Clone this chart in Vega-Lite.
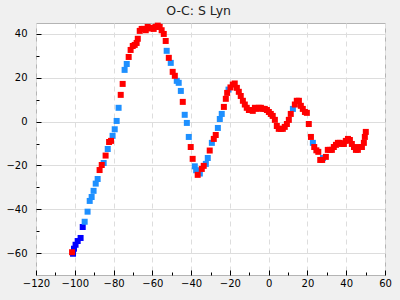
{
  "$schema": "https://vega.github.io/schema/vega-lite/v6.json",
  "width": 349,
  "height": 252,
  "autosize": {"type": "none"},
  "padding": {"left": 36, "top": 23, "right": 15, "bottom": 25},
  "background": "#f0f0f0",
  "title": {"text": "O-C: S Lyn", "fontSize": 12.5, "font": "DejaVu Sans", "fontWeight": "normal", "color": "#222222", "anchor": "middle", "frame": "bounds", "baseline": "alphabetic", "offset": -5},
  "config": {
    "view": {"fill": "white", "stroke": "#b4b4b4"},
    "axis": {"labelFont": "DejaVu Sans", "labelFontSize": 10, "labelColor": "#000000", "domain": false, "tickColor": "#000000", "labelFlush": false, "labelOverlap": false, "title": null}
  },
  "data": {"values": [
    {"x": -100.9, "y": -60.3, "c": "d"}, {"x": -100.4, "y": -58.0, "c": "d"}, {"x": -99.6, "y": -56.2, "c": "d"}, {"x": -98.5, "y": -54.5, "c": "d"}, {"x": -97.0, "y": -53.1, "c": "d"}, {"x": -95.9, "y": -48.1, "c": "d"},
    {"x": -94.9, "y": -45.7, "c": "b"}, {"x": -93.4, "y": -41.1, "c": "b"}, {"x": -92.3, "y": -36.2, "c": "b"}, {"x": -91.3, "y": -34.4, "c": "b"}, {"x": -90.3, "y": -31.6, "c": "b"}, {"x": -89.2, "y": -28.3, "c": "b"}, {"x": -88.2, "y": -26.2, "c": "b"}, {"x": -85.1, "y": -18.9, "c": "b"}, {"x": -83.0, "y": -12.5, "c": "b"}, {"x": -80.5, "y": -6.5, "c": "b"}, {"x": -79.4, "y": -3.5, "c": "b"}, {"x": -78.4, "y": 0.3, "c": "b"}, {"x": -77.4, "y": 6.3, "c": "b"}, {"x": -74.3, "y": 23.6, "c": "b"}, {"x": -73.2, "y": 26.3, "c": "b"}, {"x": -52.6, "y": 32.3, "c": "b"}, {"x": -50.5, "y": 26.8, "c": "b"}, {"x": -47.4, "y": 18.6, "c": "b"}, {"x": -46.4, "y": 17.7, "c": "b"}, {"x": -45.3, "y": 14.0, "c": "b"}, {"x": -43.3, "y": 3.1, "c": "b"}, {"x": -42.2, "y": -0.6, "c": "b"}, {"x": -41.2, "y": -7.0, "c": "b"}, {"x": -38.1, "y": -20.4, "c": "b"}, {"x": -37.4, "y": -22.2, "c": "b"}, {"x": -35.5, "y": -23.7, "c": "b"}, {"x": -32.4, "y": -19.3, "c": "b"}, {"x": -31.4, "y": -16.6, "c": "b"}, {"x": -29.3, "y": -9.7, "c": "b"}, {"x": -26.2, "y": -2.9, "c": "b"}, {"x": -25.2, "y": 1.2, "c": "b"}, {"x": -24.2, "y": 3.5, "c": "b"}, {"x": -20.7, "y": 14.6, "c": "b"}, {"x": 12.5, "y": 5.8, "c": "b"}, {"x": 22.8, "y": -9.7, "c": "b"}, {"x": 28.0, "y": -16.6, "c": "b"},
    {"x": -101.4, "y": -59.6, "c": "r"}, {"x": -87.2, "y": -22.1, "c": "r"}, {"x": -86.1, "y": -19.8, "c": "r"}, {"x": -84.1, "y": -15.5, "c": "r"}, {"x": -82.3, "y": -9.3, "c": "r"}, {"x": -81.3, "y": -8.8, "c": "r"}, {"x": -76.3, "y": 12.2, "c": "r"}, {"x": -75.3, "y": 17.2, "c": "r"}, {"x": -72.2, "y": 29.5, "c": "r"}, {"x": -71.2, "y": 32.7, "c": "r"}, {"x": -70.1, "y": 34.5, "c": "r"}, {"x": -69.1, "y": 35.0, "c": "r"}, {"x": -68.1, "y": 35.9, "c": "r"}, {"x": -67.5, "y": 37.8, "c": "r"}, {"x": -66.5, "y": 41.4, "c": "r"}, {"x": -65.5, "y": 42.3, "c": "r"}, {"x": -64.4, "y": 42.3, "c": "r"}, {"x": -63.4, "y": 41.7, "c": "r"}, {"x": -62.4, "y": 43.2, "c": "r"}, {"x": -61.4, "y": 42.5, "c": "r"}, {"x": -60.3, "y": 42.8, "c": "r"}, {"x": -59.3, "y": 42.3, "c": "r"}, {"x": -58.3, "y": 43.2, "c": "r"}, {"x": -57.2, "y": 43.8, "c": "r"}, {"x": -56.2, "y": 43.2, "c": "r"}, {"x": -55.2, "y": 41.7, "c": "r"}, {"x": -54.1, "y": 40.0, "c": "r"}, {"x": -53.1, "y": 36.8, "c": "r"}, {"x": -51.5, "y": 29.1, "c": "r"}, {"x": -49.5, "y": 22.7, "c": "r"}, {"x": -48.4, "y": 20.9, "c": "r"}, {"x": -44.3, "y": 9.0, "c": "r"}, {"x": -40.2, "y": -11.6, "c": "r"}, {"x": -39.2, "y": -17.0, "c": "r"}, {"x": -36.6, "y": -24.3, "c": "r"}, {"x": -34.5, "y": -21.6, "c": "r"}, {"x": -33.5, "y": -20.2, "c": "r"}, {"x": -30.4, "y": -13.2, "c": "r"}, {"x": -28.3, "y": -7.9, "c": "r"}, {"x": -27.3, "y": -6.1, "c": "r"}, {"x": -23.1, "y": 6.7, "c": "r"}, {"x": -22.1, "y": 10.4, "c": "r"}, {"x": -21.4, "y": 13.1, "c": "r"}, {"x": -19.7, "y": 15.6, "c": "r"}, {"x": -18.5, "y": 16.9, "c": "r"}, {"x": -17.5, "y": 17.4, "c": "r"}, {"x": -16.4, "y": 15.4, "c": "r"}, {"x": -15.4, "y": 13.6, "c": "r"}, {"x": -14.4, "y": 11.7, "c": "r"}, {"x": -13.3, "y": 9.5, "c": "r"}, {"x": -12.3, "y": 7.8, "c": "r"}, {"x": -11.3, "y": 6.3, "c": "r"}, {"x": -10.2, "y": 5.3, "c": "r"}, {"x": -9.2, "y": 5.3, "c": "r"}, {"x": -8.2, "y": 4.9, "c": "r"}, {"x": -7.1, "y": 6.3, "c": "r"}, {"x": -6.1, "y": 5.8, "c": "r"}, {"x": -5.1, "y": 6.3, "c": "r"}, {"x": -4.0, "y": 6.3, "c": "r"}, {"x": -3.0, "y": 5.8, "c": "r"}, {"x": -2.0, "y": 5.8, "c": "r"}, {"x": -0.9, "y": 5.3, "c": "r"}, {"x": 0.1, "y": 4.4, "c": "r"}, {"x": 1.1, "y": 3.5, "c": "r"}, {"x": 2.1, "y": 2.6, "c": "r"}, {"x": 3.2, "y": 0.8, "c": "r"}, {"x": 4.2, "y": -2.0, "c": "r"}, {"x": 5.2, "y": -3.3, "c": "r"}, {"x": 6.3, "y": -3.3, "c": "r"}, {"x": 7.3, "y": -3.3, "c": "r"}, {"x": 8.3, "y": -2.4, "c": "r"}, {"x": 9.4, "y": -1.1, "c": "r"}, {"x": 10.4, "y": 0.8, "c": "r"}, {"x": 11.4, "y": 3.5, "c": "r"}, {"x": 13.5, "y": 7.8, "c": "r"}, {"x": 14.5, "y": 9.5, "c": "r"}, {"x": 15.6, "y": 9.5, "c": "r"}, {"x": 16.6, "y": 7.2, "c": "r"}, {"x": 17.6, "y": 5.8, "c": "r"}, {"x": 18.7, "y": 4.4, "c": "r"}, {"x": 19.7, "y": 4.0, "c": "r"}, {"x": 20.7, "y": -1.1, "c": "r"}, {"x": 21.8, "y": -7.0, "c": "r"}, {"x": 23.5, "y": -11.6, "c": "r"}, {"x": 24.6, "y": -13.1, "c": "r"}, {"x": 25.6, "y": -13.8, "c": "r"}, {"x": 26.6, "y": -17.5, "c": "r"}, {"x": 27.6, "y": -17.5, "c": "r"}, {"x": 29.5, "y": -16.1, "c": "r"}, {"x": 30.5, "y": -12.9, "c": "r"}, {"x": 31.6, "y": -12.9, "c": "r"}, {"x": 32.6, "y": -12.9, "c": "r"}, {"x": 33.6, "y": -11.6, "c": "r"}, {"x": 34.7, "y": -10.6, "c": "r"}, {"x": 35.7, "y": -9.7, "c": "r"}, {"x": 36.7, "y": -9.7, "c": "r"}, {"x": 37.8, "y": -10.2, "c": "r"}, {"x": 38.8, "y": -10.2, "c": "r"}, {"x": 39.8, "y": -8.8, "c": "r"}, {"x": 40.9, "y": -7.9, "c": "r"}, {"x": 41.9, "y": -8.4, "c": "r"}, {"x": 42.9, "y": -10.2, "c": "r"}, {"x": 44.0, "y": -11.6, "c": "r"}, {"x": 45.0, "y": -12.9, "c": "r"}, {"x": 46.0, "y": -12.9, "c": "r"}, {"x": 47.0, "y": -11.6, "c": "r"}, {"x": 48.1, "y": -11.6, "c": "r"}, {"x": 49.1, "y": -9.7, "c": "r"}, {"x": 49.6, "y": -7.0, "c": "r"}, {"x": 50.1, "y": -4.7, "c": "r"}
  ]},
  "mark": {"type": "square", "size": 36, "opacity": 1, "filled": true},
  "encoding": {
    "x": {
      "field": "x", "type": "quantitative",
      "scale": {"domain": [-120, 60], "nice": false, "zero": false},
      "axis": {
        "values": [-120, -110, -100, -90, -80, -70, -60, -50, -40, -30, -20, -10, 0, 10, 20, 30, 40, 50, 60],
        "format": "d",
        "labelExpr": "datum.value % 20 == 0 ? datum.label : ''",
        "tickSize": {"condition": {"test": "datum.value % 20 == 0", "value": -5}, "value": -3},
        "labelPadding": 8,
        "grid": true,
        "gridColor": "#dddddd",
        "gridDash": [5, 4],
        "gridOpacity": {"condition": {"test": "datum.value % 20 == 0", "value": 1}, "value": 0}
      }
    },
    "y": {
      "field": "y", "type": "quantitative",
      "scale": {"domain": [-70, 45], "nice": false, "zero": false},
      "axis": {
        "values": [-60, -50, -40, -30, -20, -10, 0, 10, 20, 30, 40],
        "format": "d",
        "labelExpr": "datum.value % 20 == 0 ? datum.label : ''",
        "tickSize": {"condition": {"test": "datum.value % 20 == 0", "value": -5}, "value": -3},
        "labelPadding": 14,
        "grid": true,
        "gridColor": "#dddddd",
        "gridOpacity": {"condition": {"test": "datum.value % 20 == 0", "value": 1}, "value": 0}
      }
    },
    "color": {
      "field": "c", "type": "nominal",
      "scale": {"domain": ["r", "b", "d"], "range": ["#ff0000", "#1e90ff", "#0000ff"]},
      "legend": null
    }
  }
}
